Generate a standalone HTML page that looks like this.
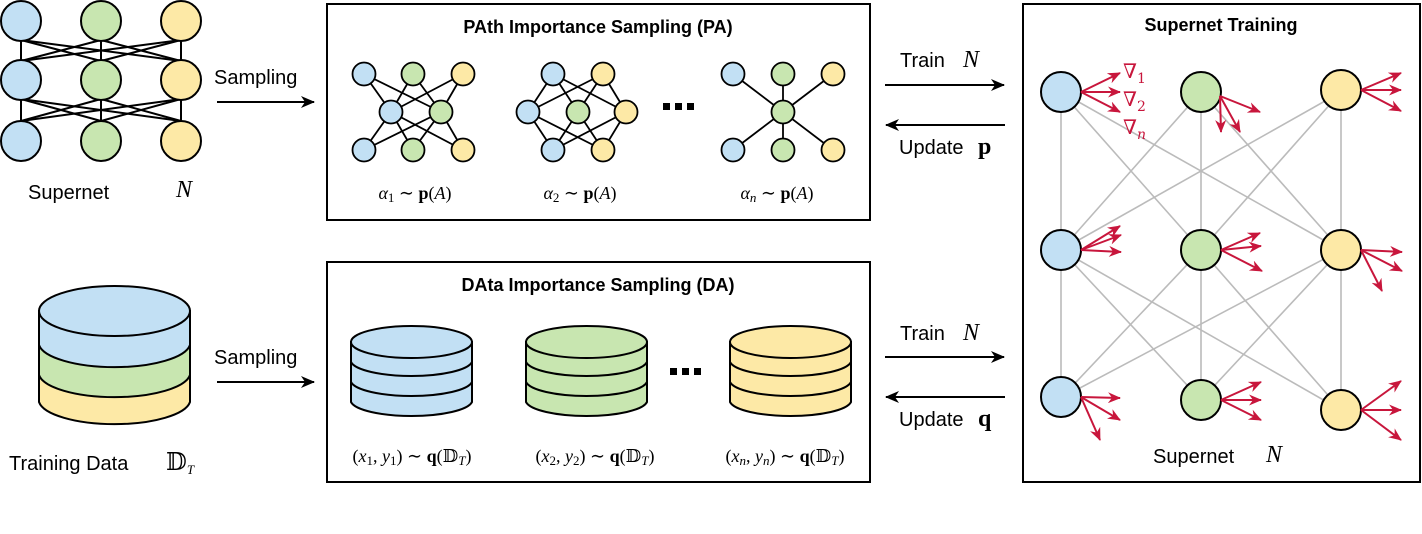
<!DOCTYPE html>
<html><head><meta charset="utf-8"><style>
html,body{margin:0;padding:0;background:#fff;}
svg{display:block;}
.t{font-family:"Liberation Sans",sans-serif;font-size:20px;fill:#000;}
.b{font-family:"Liberation Sans",sans-serif;font-size:18px;font-weight:bold;fill:#000;}
.m{font-family:"Liberation Serif","DejaVu Serif",serif;font-size:18px;fill:#000;}
.big{font-size:24px;}
.i{font-style:italic;}
.s{font-size:13px;}
</style></head><body>
<svg width="1422" height="534" viewBox="0 0 1422 534" xmlns="http://www.w3.org/2000/svg">
<defs>
<marker id="ab" markerWidth="14" markerHeight="12" refX="13" refY="6" orient="auto" markerUnits="userSpaceOnUse" viewBox="0 0 14 12"><path d="M0,0 L14,6 L0,12 L4,6 z" fill="#000"/></marker>
<marker id="ar" markerWidth="13" markerHeight="11" refX="12" refY="5.5" orient="auto" markerUnits="userSpaceOnUse" viewBox="0 0 13 11"><path d="M0,0 L13,5.5 L0,11 L4,5.5 z" fill="#c8163c"/></marker>
</defs>

<!-- Left supernet -->
<g stroke="#000" stroke-width="2">
<line x1="21" y1="40" x2="21" y2="61"/><line x1="101" y1="40" x2="101" y2="61"/><line x1="181" y1="40" x2="181" y2="61"/>
<line x1="21" y1="40" x2="101" y2="61"/><line x1="21" y1="40" x2="181" y2="61"/>
<line x1="101" y1="40" x2="21" y2="61"/><line x1="101" y1="40" x2="181" y2="61"/>
<line x1="181" y1="40" x2="21" y2="61"/><line x1="181" y1="40" x2="101" y2="61"/>
<line x1="21" y1="99" x2="21" y2="121"/><line x1="101" y1="99" x2="101" y2="121"/><line x1="181" y1="99" x2="181" y2="121"/>
<line x1="21" y1="99" x2="101" y2="121"/><line x1="21" y1="99" x2="181" y2="121"/>
<line x1="101" y1="99" x2="21" y2="121"/><line x1="101" y1="99" x2="181" y2="121"/>
<line x1="181" y1="99" x2="21" y2="121"/><line x1="181" y1="99" x2="101" y2="121"/>
</g>
<g stroke="#000" stroke-width="2">
<circle cx="21" cy="21" r="20" fill="#c2e0f4"/><circle cx="101" cy="21" r="20" fill="#c8e6b0"/><circle cx="181" cy="21" r="20" fill="#fde9a6"/>
<circle cx="21" cy="80" r="20" fill="#c2e0f4"/><circle cx="101" cy="80" r="20" fill="#c8e6b0"/><circle cx="181" cy="80" r="20" fill="#fde9a6"/>
<circle cx="21" cy="141" r="20" fill="#c2e0f4"/><circle cx="101" cy="141" r="20" fill="#c8e6b0"/><circle cx="181" cy="141" r="20" fill="#fde9a6"/>
</g>
<text class="t" x="28" y="199">Supernet</text>
<text class="m i big" x="176" y="197">N</text>

<!-- Sampling arrows -->
<text class="t" x="214" y="84">Sampling</text>
<line x1="217" y1="102" x2="314" y2="102" stroke="#000" stroke-width="2" marker-end="url(#ab)"/>
<text class="t" x="214" y="364">Sampling</text>
<line x1="217" y1="382" x2="314" y2="382" stroke="#000" stroke-width="2" marker-end="url(#ab)"/>

<!-- PA box -->
<rect x="327" y="4" width="543" height="216" fill="none" stroke="#000" stroke-width="2"/>
<text class="b" x="598" y="33" text-anchor="middle">PAth Importance Sampling (PA)</text>
<g stroke="#000" stroke-width="1.8">
<line x1="364" y1="74" x2="391" y2="112"/><line x1="364" y1="74" x2="441" y2="112"/>
<line x1="413" y1="74" x2="391" y2="112"/><line x1="413" y1="74" x2="441" y2="112"/>
<line x1="463" y1="74" x2="391" y2="112"/><line x1="463" y1="74" x2="441" y2="112"/>
<line x1="364" y1="150" x2="391" y2="112"/><line x1="364" y1="150" x2="441" y2="112"/>
<line x1="413" y1="150" x2="391" y2="112"/><line x1="413" y1="150" x2="441" y2="112"/>
<line x1="463" y1="150" x2="391" y2="112"/><line x1="463" y1="150" x2="441" y2="112"/>
<line x1="553" y1="74" x2="528" y2="112"/><line x1="553" y1="74" x2="578" y2="112"/><line x1="553" y1="74" x2="626" y2="112"/>
<line x1="603" y1="74" x2="528" y2="112"/><line x1="603" y1="74" x2="578" y2="112"/><line x1="603" y1="74" x2="626" y2="112"/>
<line x1="553" y1="150" x2="528" y2="112"/><line x1="553" y1="150" x2="578" y2="112"/><line x1="553" y1="150" x2="626" y2="112"/>
<line x1="603" y1="150" x2="528" y2="112"/><line x1="603" y1="150" x2="578" y2="112"/><line x1="603" y1="150" x2="626" y2="112"/>
<line x1="733" y1="74" x2="783" y2="112"/><line x1="783" y1="74" x2="783" y2="112"/><line x1="833" y1="74" x2="783" y2="112"/>
<line x1="733" y1="150" x2="783" y2="112"/><line x1="783" y1="150" x2="783" y2="112"/><line x1="833" y1="150" x2="783" y2="112"/>
</g>
<g stroke="#000" stroke-width="1.8">
<circle cx="364" cy="74" r="11.5" fill="#c2e0f4"/><circle cx="413" cy="74" r="11.5" fill="#c8e6b0"/><circle cx="463" cy="74" r="11.5" fill="#fde9a6"/>
<circle cx="391" cy="112" r="11.5" fill="#c2e0f4"/><circle cx="441" cy="112" r="11.5" fill="#c8e6b0"/>
<circle cx="364" cy="150" r="11.5" fill="#c2e0f4"/><circle cx="413" cy="150" r="11.5" fill="#c8e6b0"/><circle cx="463" cy="150" r="11.5" fill="#fde9a6"/>
<circle cx="553" cy="74" r="11.5" fill="#c2e0f4"/><circle cx="603" cy="74" r="11.5" fill="#fde9a6"/>
<circle cx="528" cy="112" r="11.5" fill="#c2e0f4"/><circle cx="578" cy="112" r="11.5" fill="#c8e6b0"/><circle cx="626" cy="112" r="11.5" fill="#fde9a6"/>
<circle cx="553" cy="150" r="11.5" fill="#c2e0f4"/><circle cx="603" cy="150" r="11.5" fill="#fde9a6"/>
<circle cx="733" cy="74" r="11.5" fill="#c2e0f4"/><circle cx="783" cy="74" r="11.5" fill="#c8e6b0"/><circle cx="833" cy="74" r="11.5" fill="#fde9a6"/>
<circle cx="783" cy="112" r="11.5" fill="#c8e6b0"/>
<circle cx="733" cy="150" r="11.5" fill="#c2e0f4"/><circle cx="783" cy="150" r="11.5" fill="#c8e6b0"/><circle cx="833" cy="150" r="11.5" fill="#fde9a6"/>
</g>
<g fill="#000"><rect x="663" y="103" width="7" height="7"/><rect x="675" y="103" width="7" height="7"/><rect x="687" y="103" width="7" height="7"/></g>
<text class="m" x="415" y="199" text-anchor="middle"><tspan class="i">α</tspan><tspan class="s" dy="3">1</tspan><tspan dy="-3"> ∼ </tspan><tspan font-weight="bold">p</tspan>(<tspan class="i">A</tspan>)</text>
<text class="m" x="580" y="199" text-anchor="middle"><tspan class="i">α</tspan><tspan class="s" dy="3">2</tspan><tspan dy="-3"> ∼ </tspan><tspan font-weight="bold">p</tspan>(<tspan class="i">A</tspan>)</text>
<text class="m" x="777" y="199" text-anchor="middle"><tspan class="i">α</tspan><tspan class="s i" dy="3">n</tspan><tspan dy="-3"> ∼ </tspan><tspan font-weight="bold">p</tspan>(<tspan class="i">A</tspan>)</text>

<!-- Training data cylinder -->
<g stroke="#000" stroke-width="2">
<path d="M39,311 L39,402 A76,25 0 0 0 190,402 L190,311 Z" fill="#fde9a6"/>
<path d="M39,311 L39,375 A76,25 0 0 0 190,375 L190,311 Z" fill="#c8e6b0"/>
<path d="M39,311 L39,345 A76,25 0 0 0 190,345 L190,311 Z" fill="#c2e0f4"/>
<ellipse cx="114.5" cy="311" rx="75.5" ry="25" fill="#c2e0f4"/>
</g>
<text class="t" x="9" y="470">Training Data</text>
<text class="m big" x="166" y="470">𝔻<tspan class="i s" dy="4">T</tspan></text>

<!-- DA box -->
<rect x="327" y="262" width="543" height="220" fill="none" stroke="#000" stroke-width="2"/>
<text class="b" x="598" y="291" text-anchor="middle">DAta Importance Sampling (DA)</text>
<g stroke="#000" stroke-width="2">
<path d="M351,342 L351,402 A61,16 0 0 0 472,402 L472,342 Z" fill="#c2e0f4"/>
<ellipse cx="411.5" cy="342" rx="60.5" ry="16" fill="#c2e0f4"/>
<path d="M351,362 A61,16 0 0 0 472,362 M351,382 A61,16 0 0 0 472,382" fill="none"/>
<path d="M526,342 L526,402 A61,16 0 0 0 647,402 L647,342 Z" fill="#c8e6b0"/>
<ellipse cx="586.5" cy="342" rx="60.5" ry="16" fill="#c8e6b0"/>
<path d="M526,362 A61,16 0 0 0 647,362 M526,382 A61,16 0 0 0 647,382" fill="none"/>
<path d="M730,342 L730,402 A61,16 0 0 0 851,402 L851,342 Z" fill="#fde9a6"/>
<ellipse cx="790.5" cy="342" rx="60.5" ry="16" fill="#fde9a6"/>
<path d="M730,362 A61,16 0 0 0 851,362 M730,382 A61,16 0 0 0 851,382" fill="none"/>
</g>
<g fill="#000"><rect x="670" y="368" width="7" height="7"/><rect x="682" y="368" width="7" height="7"/><rect x="694" y="368" width="7" height="7"/></g>
<text class="m" x="412" y="462" text-anchor="middle">(<tspan class="i">x</tspan><tspan class="s" dy="3">1</tspan><tspan dy="-3">, </tspan><tspan class="i">y</tspan><tspan class="s" dy="3">1</tspan><tspan dy="-3">) ∼ </tspan><tspan font-weight="bold">q</tspan>(𝔻<tspan class="i s" dy="3">T</tspan><tspan dy="-3">)</tspan></text>
<text class="m" x="595" y="462" text-anchor="middle">(<tspan class="i">x</tspan><tspan class="s" dy="3">2</tspan><tspan dy="-3">, </tspan><tspan class="i">y</tspan><tspan class="s" dy="3">2</tspan><tspan dy="-3">) ∼ </tspan><tspan font-weight="bold">q</tspan>(𝔻<tspan class="i s" dy="3">T</tspan><tspan dy="-3">)</tspan></text>
<text class="m" x="785" y="462" text-anchor="middle">(<tspan class="i">x</tspan><tspan class="s i" dy="3">n</tspan><tspan dy="-3">, </tspan><tspan class="i">y</tspan><tspan class="s i" dy="3">n</tspan><tspan dy="-3">) ∼ </tspan><tspan font-weight="bold">q</tspan>(𝔻<tspan class="i s" dy="3">T</tspan><tspan dy="-3">)</tspan></text>

<!-- Middle arrows -->
<text class="t" x="900" y="67">Train</text><text class="m i big" x="963" y="67">N</text>
<line x1="885" y1="85" x2="1004" y2="85" stroke="#000" stroke-width="2" marker-end="url(#ab)"/>
<line x1="1005" y1="125" x2="886" y2="125" stroke="#000" stroke-width="2" marker-end="url(#ab)"/>
<text class="t" x="899" y="154">Update</text><text class="m big" x="978" y="154" font-weight="bold">p</text>
<text class="t" x="900" y="340">Train</text><text class="m i big" x="963" y="340">N</text>
<line x1="885" y1="357" x2="1004" y2="357" stroke="#000" stroke-width="2" marker-end="url(#ab)"/>
<line x1="1005" y1="397" x2="886" y2="397" stroke="#000" stroke-width="2" marker-end="url(#ab)"/>
<text class="t" x="899" y="426">Update</text><text class="m big" x="978" y="426" font-weight="bold">q</text>

<!-- Supernet Training box -->
<rect x="1023" y="4" width="397" height="478" fill="none" stroke="#000" stroke-width="2"/>
<text class="b" x="1221" y="31" text-anchor="middle">Supernet Training</text>
<g stroke="#bbb" stroke-width="1.6">
<line x1="1061" y1="92" x2="1061" y2="250"/><line x1="1061" y1="92" x2="1201" y2="250"/><line x1="1061" y1="92" x2="1341" y2="250"/>
<line x1="1201" y1="92" x2="1061" y2="250"/><line x1="1201" y1="92" x2="1201" y2="250"/><line x1="1201" y1="92" x2="1341" y2="250"/>
<line x1="1341" y1="92" x2="1061" y2="250"/><line x1="1341" y1="92" x2="1201" y2="250"/><line x1="1341" y1="92" x2="1341" y2="250"/>
<line x1="1061" y1="250" x2="1061" y2="398"/><line x1="1061" y1="250" x2="1201" y2="400"/><line x1="1061" y1="250" x2="1341" y2="410"/>
<line x1="1201" y1="250" x2="1061" y2="398"/><line x1="1201" y1="250" x2="1201" y2="400"/><line x1="1201" y1="250" x2="1341" y2="410"/>
<line x1="1341" y1="250" x2="1061" y2="398"/><line x1="1341" y1="250" x2="1201" y2="400"/><line x1="1341" y1="250" x2="1341" y2="410"/>
</g>
<g stroke="#000" stroke-width="2">
<circle cx="1061" cy="92" r="20" fill="#c2e0f4"/><circle cx="1201" cy="92" r="20" fill="#c8e6b0"/><circle cx="1341" cy="90" r="20" fill="#fde9a6"/>
<circle cx="1061" cy="250" r="20" fill="#c2e0f4"/><circle cx="1201" cy="250" r="20" fill="#c8e6b0"/><circle cx="1341" cy="250" r="20" fill="#fde9a6"/>
<circle cx="1061" cy="397" r="20" fill="#c2e0f4"/><circle cx="1201" cy="400" r="20" fill="#c8e6b0"/><circle cx="1341" cy="410" r="20" fill="#fde9a6"/>
</g>
<g stroke="#c8163c" stroke-width="2" marker-end="url(#ar)">
<line x1="1081" y1="92" x2="1120" y2="73"/><line x1="1081" y1="92" x2="1120" y2="92"/><line x1="1081" y1="92" x2="1120" y2="112"/>
<line x1="1220" y1="96" x2="1260" y2="112"/><line x1="1220" y1="96" x2="1221" y2="132"/><line x1="1220" y1="96" x2="1240" y2="132"/>
<line x1="1361" y1="90" x2="1401" y2="73"/><line x1="1361" y1="90" x2="1401" y2="90"/><line x1="1361" y1="90" x2="1401" y2="111"/>
<line x1="1081" y1="250" x2="1120" y2="226"/><line x1="1081" y1="250" x2="1121" y2="235"/><line x1="1081" y1="250" x2="1121" y2="252"/>
<line x1="1221" y1="250" x2="1260" y2="233"/><line x1="1221" y1="250" x2="1261" y2="246"/><line x1="1221" y1="250" x2="1262" y2="271"/>
<line x1="1361" y1="250" x2="1402" y2="252"/><line x1="1361" y1="250" x2="1402" y2="271"/><line x1="1361" y1="250" x2="1382" y2="291"/>
<line x1="1081" y1="397" x2="1120" y2="398"/><line x1="1081" y1="397" x2="1120" y2="420"/><line x1="1081" y1="397" x2="1100" y2="440"/>
<line x1="1221" y1="400" x2="1261" y2="382"/><line x1="1221" y1="400" x2="1261" y2="400"/><line x1="1221" y1="400" x2="1261" y2="420"/>
<line x1="1361" y1="410" x2="1401" y2="381"/><line x1="1361" y1="410" x2="1401" y2="410"/><line x1="1361" y1="410" x2="1401" y2="440"/>
</g>
<g fill="#c8163c" font-family="'DejaVu Serif','Liberation Serif',serif" font-size="20">
<text x="1123" y="78">∇<tspan font-size="14" dy="5">1</tspan></text>
<text x="1123" y="106">∇<tspan font-size="14" dy="5">2</tspan></text>
<text x="1123" y="134">∇<tspan font-size="14" dy="5" font-style="italic">n</tspan></text>
</g>
<text class="t" x="1153" y="463">Supernet</text>
<text class="m i big" x="1266" y="462">N</text>
</svg>
</body></html>
